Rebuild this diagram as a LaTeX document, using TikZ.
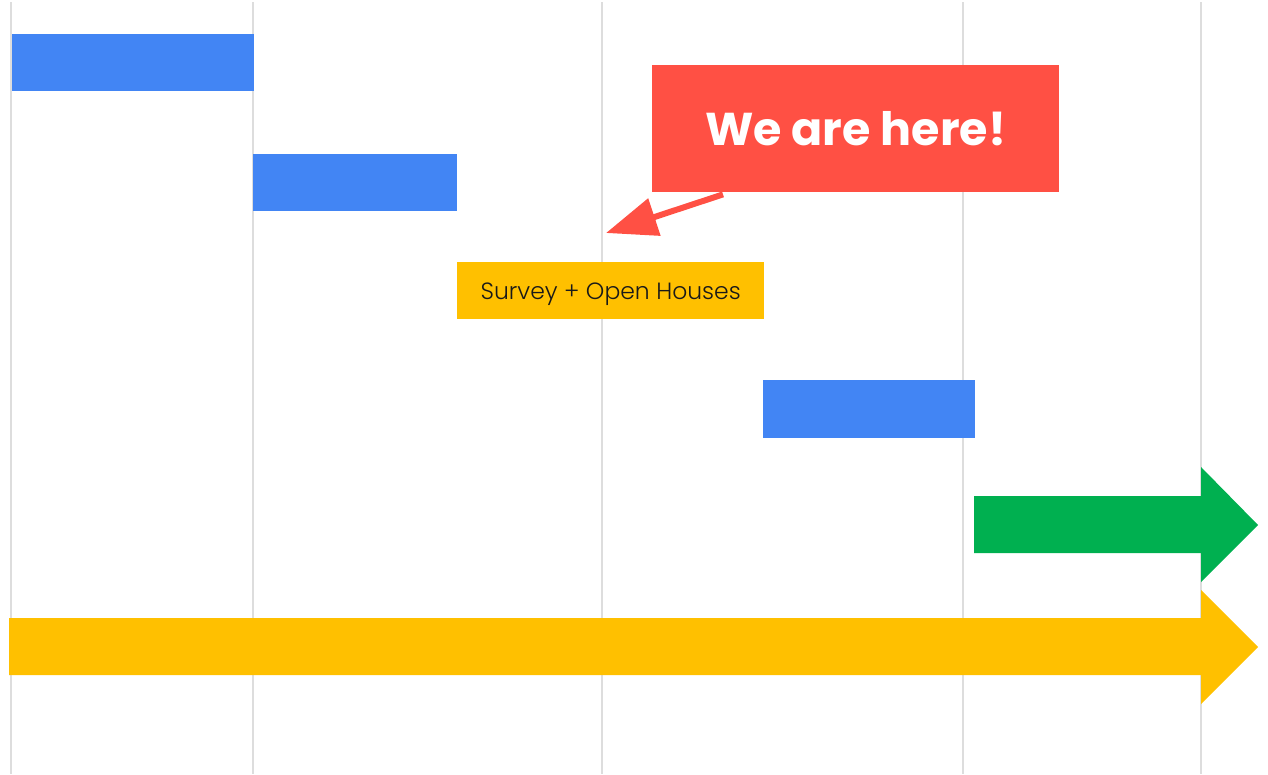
\documentclass[tikz,border=0pt]{standalone}
\usepackage{fontspec}
\setmainfont{Poppins}
\IfFontExistsTF{Poppins Light}{\newfontfamily\lightfont{Poppins Light}}{\newfontfamily\lightfont{Poppins}}
\usetikzlibrary{arrows.meta}
\definecolor{gblue}{HTML}{4285F4}
\definecolor{gyellow}{HTML}{FFC000}
\definecolor{ggreen}{HTML}{00B050}
\definecolor{gred}{HTML}{FF5044}
\definecolor{ggrid}{HTML}{DDDDDD}
\tikzset{
  bar/.style={fill=gblue, draw=none, inner sep=0pt, anchor=north west},
  gridline/.style={draw=ggrid, line width=2pt},
  callout/.style={fill=gred, draw=none, inner sep=0pt, anchor=north west, text=white, font=\fontsize{46}{52}\selectfont\bfseries},
  labelbox/.style={fill=gyellow, draw=none, inner sep=0pt, anchor=north west},
  labeltext/.style={text=black!90, font=\lightfont\fontsize{23.5}{28}\selectfont, yshift=-4pt},
  pointer/.style={draw=gred, line width=6pt, -{Triangle[length=51pt,width=38pt]}}
}
\begin{document}
\begin{tikzpicture}[x=1pt,y=-1pt]
\useasboundingbox (0,0) rectangle (1268,774);
% grid lines
\foreach \gx in {11,253,602,963,1201}
  \draw[gridline] (\gx,2) -- (\gx,774);
% bars
\node[bar, minimum width=242pt, minimum height=57pt] (b1) at (12,34) {};
\node[bar, minimum width=204pt, minimum height=57pt] (b2) at (253,154) {};
\node[bar, minimum width=212pt, minimum height=58pt] (b3) at (763,380) {};
\node[labelbox, minimum width=307pt, minimum height=57pt,
  label={[labeltext]center:Survey + Open Houses}] (survey) at (457,262) {};
% big arrows
\fill[ggreen] (974,496) -- (1201,496) -- (1201,467) -- (1258,525) -- (1201,582) -- (1201,553) -- (974,553) -- cycle;
\fill[gyellow] (9,618) -- (1201,618) -- (1201,590) -- (1258,647) -- (1201,704) -- (1201,675) -- (9,675) -- cycle;
% callout
\node[callout, minimum width=407pt, minimum height=127pt] (here) at (652,65) {We are here!};
\coordinate (target) at (606,233);
\draw[pointer] ([xshift=71pt,yshift=-2pt]here.south west) -- (target);
\end{tikzpicture}
\end{document}
